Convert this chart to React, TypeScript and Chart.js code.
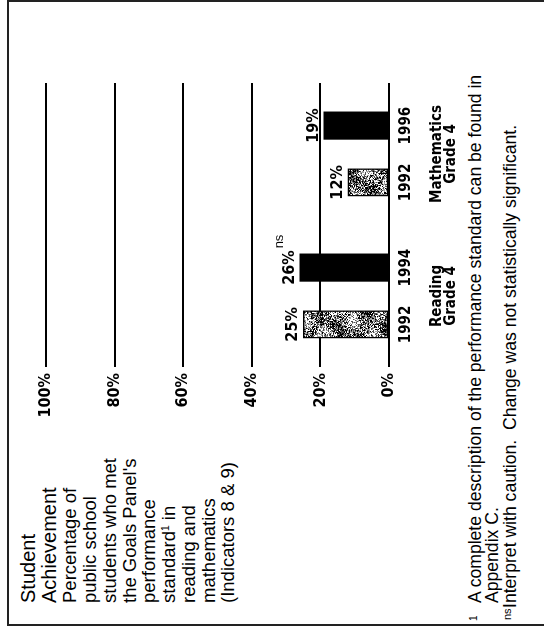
import React, { useEffect, useRef } from 'react';
import { Chart, registerables } from 'chart.js';

Chart.register(...registerables);

// ---- data ----
const groupNames = ['Reading', 'Mathematics'];
const groupGrades = ['Grade 4', 'Grade 4'];
const yearLabels = ['1992', '1994', '1992', '1996'];
const barGroup = [0, 0, 1, 1];
const percentMet = [25, 26, 12, 19];
const notSignificant = [false, true, false, false];
const yTickValues = [0, 20, 40, 60, 80, 100];
const titleLines = ['Student', 'Achievement'];
const bodyLines = [
  'Percentage of',
  'public school',
  'students who met',
  "the Goals Panel's",
  'performance',
  'standard¹ in',
  'reading and',
  'mathematics',
  '(Indicators 8 & 9)',
];
const footnote1 = ['A complete description of the performance standard can be found in', 'Appendix C.'];
const footnote2 = 'Interpret with caution.  Change was not statistically significant.';

// ---- layout constants ----
const GROUP_STEP = 2.5;
const NARROW = "'Liberation Sans Narrow', 'Arial Narrow', 'DejaVu Sans Condensed', sans-serif";
const SANS = "'Liberation Sans', Arial, sans-serif";

function makeSpeckle(ctx: CanvasRenderingContext2D): CanvasPattern | string {
  const n = 96;
  const c = document.createElement('canvas');
  c.width = n;
  c.height = n;
  const g = c.getContext('2d');
  if (!g) return '#888';
  const img = g.createImageData(n, n);
  for (let y = 0; y < n; y++) {
    for (let x = 0; x < n; x++) {
      let h = Math.sin(x * 12.9898 + y * 78.233) * 43758.5453;
      h = h - Math.floor(h);
      const low = 0.5 + 0.22 * Math.sin((x / n) * Math.PI * 6 + (y / n) * Math.PI * 4) + 0.18 * Math.sin((x / n) * Math.PI * 2 - (y / n) * Math.PI * 8);
      const v = 0.6 * h + 0.4 * low;
      const shade = v < 0.36 ? 0 : v < 0.5 ? 80 : v < 0.64 ? 165 : 255;
      const k = (y * n + x) * 4;
      img.data[k] = shade;
      img.data[k + 1] = shade;
      img.data[k + 2] = shade;
      img.data[k + 3] = 255;
    }
  }
  g.putImageData(img, 0, 0);
  return ctx.createPattern(c, 'repeat') || '#888';
}

function renderSup(text: string) {
  const parts = text.split('¹');
  if (parts.length === 1) return text;
  return (
    <>
      {parts[0]}
      <span style={{ fontSize: '0.55em', position: 'relative', top: '-0.6em' }}>1</span>
      {parts[1]}
    </>
  );
}

function TextLine(props: { u: number; base: number; size: number; weight?: number; children: React.ReactNode }) {
  const { u, base, size, weight, children } = props;
  return (
    <div
      style={{
        position: 'absolute',
        left: u,
        top: base - 0.8465 * size,
        fontSize: size,
        lineHeight: 1,
        fontFamily: SANS,
        fontWeight: weight || 400,
        whiteSpace: 'pre',
        color: '#000',
      }}
    >
      {children}
    </div>
  );
}

export default function App() {
  const ref = useRef<HTMLCanvasElement>(null);

  useEffect(() => {
    const canvas = ref.current;
    if (!canvas) return;
    const ctx = canvas.getContext('2d');
    if (!ctx) return;
    const speckle = makeSpeckle(ctx);

    const within: number[] = barGroup.map((g, i) => barGroup.slice(0, i).filter((h) => h === g).length);
    const xPos = barGroup.map((g, i) => g * GROUP_STEP + within[i]);

    const labelPlugin = {
      id: 'barLabels',
      afterDatasetsDraw(chart: any) {
        const c = chart.ctx as CanvasRenderingContext2D;
        const meta = chart.getDatasetMeta(0);
        c.save();
        c.fillStyle = '#000';
        c.textBaseline = 'alphabetic';
        meta.data.forEach((bar: any, i: number) => {
          const text = `${percentMet[i]}%`;
          c.font = `bold 16px ${NARROW}`;
          c.textAlign = 'center';
          c.fillText(text, bar.x, bar.y - 6);
          if (notSignificant[i]) {
            const w = c.measureText(text).width;
            c.font = `13px ${SANS}`;
            c.textAlign = 'left';
            c.fillText('ns', bar.x + w / 2 + 2, bar.y - 17);
          }
        });
        c.font = `bold 15px ${NARROW}`;
        c.textAlign = 'center';
        const base = chart.chartArea.bottom;
        groupNames.forEach((name, g) => {
          const xs = meta.data.filter((_: any, i: number) => barGroup[i] === g).map((b: any) => b.x);
          const cx = (Math.min(...xs) + Math.max(...xs)) / 2;
          c.fillText(name, cx, base + 52);
          c.fillText(groupGrades[g], cx, base + 66);
        });
        c.restore();
      },
    };

    const chart = new Chart(canvas, {
      type: 'bar',
      data: {
        datasets: [
          {
            data: xPos.map((x, i) => ({ x, y: percentMet[i] })) as any,
            backgroundColor: within.map((w) => (w === 0 ? speckle : '#000')) as any,
            borderColor: '#000',
            borderWidth: within.map((w) => (w === 0 ? 1.5 : 0)) as any,
            borderSkipped: false,
            barThickness: 27.5,
          },
        ],
      },
      options: {
        animation: false,
        responsive: false,
        devicePixelRatio: 1,
        layout: { padding: { top: 26, right: 55, bottom: 0, left: 0 } },
        plugins: { legend: { display: false }, tooltip: { enabled: false } },
        scales: {
          x: {
            type: 'linear',
            offset: false,
            min: -0.75,
            max: 4.25,
            grid: { display: false, drawTicks: false },
            border: { display: false },
            afterBuildTicks: (s: any) => {
              s.ticks = xPos.map((v) => ({ value: v }));
            },
            afterFit: (s: any) => {
              s.height = 81;
            },
            ticks: {
              autoSkip: false,
              maxRotation: 0,
              padding: 8,
              color: '#000',
              font: { family: NARROW, size: 15, weight: 'bold' },
              callback: (_v: any, i: number) => yearLabels[i],
            },
          },
          y: {
            min: 0,
            max: 100,
            grid: { color: '#000', lineWidth: 2, drawTicks: false },
            border: { display: false },
            afterBuildTicks: (s: any) => {
              s.ticks = yTickValues.map((v) => ({ value: v }));
            },
            afterFit: (s: any) => {
              s.width = 61;
            },
            ticks: {
              padding: 6,
              color: '#000',
              font: { family: NARROW, size: 16, weight: 'bold' },
              callback: (v: any) => `${v}%`,
            },
          },
        },
      } as any,
      plugins: [labelPlugin],
    });
    return () => chart.destroy();
  }, []);

  return (
    <div style={{ position: 'fixed', left: 0, top: 0, width: 544, height: 628, background: '#fff', overflow: 'hidden' }}>
      {/* frame */}
      <div style={{ position: 'absolute', left: 6.5, top: 0, width: 2, height: 626, background: '#222' }} />
      <div style={{ position: 'absolute', left: 6.5, top: 0, width: 540, height: 1.5, background: '#222' }} />
      <div style={{ position: 'absolute', left: 6.5, top: 624, width: 540, height: 2, background: '#222' }} />
      {/* rotated page */}
      <div
        style={{
          position: 'absolute',
          left: 0,
          top: 0,
          width: 628,
          height: 544,
          transformOrigin: '0 0',
          transform: 'translate(0px, 628px) rotate(-90deg)',
        }}
      >
        {titleLines.map((t, i) => (
          <TextLine key={'t' + i} u={25} base={35 + 21 * i} size={20}>
            {t}
          </TextLine>
        ))}
        {bodyLines.map((t, i) => (
          <TextLine key={'b' + i} u={25} base={77 + 19.75 * i} size={18.5}>
            {renderSup(t)}
          </TextLine>
        ))}
        <TextLine u={7} base={477} size={10}>
          1
        </TextLine>
        {footnote1.map((t, i) => (
          <TextLine key={'f' + i} u={25} base={482 + 17 * i} size={17.6}>
            {t}
          </TextLine>
        ))}
        <TextLine u={8} base={511} size={11}>
          ns
        </TextLine>
        <TextLine u={20} base={517} size={17.6}>
          {footnote2}
        </TextLine>
        <canvas
          ref={ref}
          width={400}
          height={450}
          style={{ position: 'absolute', left: 200, top: 20, width: 400, height: 450 }}
        />
      </div>
    </div>
  );
}
